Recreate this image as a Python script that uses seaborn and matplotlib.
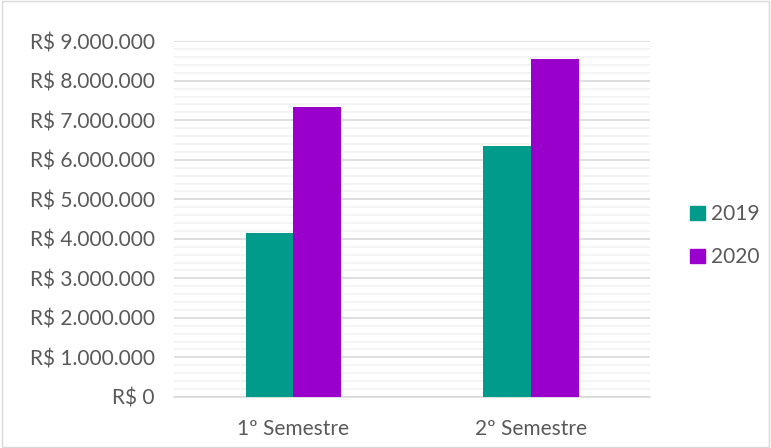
import numpy as np
import pandas as pd
import matplotlib.pyplot as plt
import seaborn as sns
from matplotlib.ticker import FuncFormatter, MultipleLocator
from matplotlib.patches import Rectangle

semestres = ["1º Semestre", "2º Semestre"]
anos = ["2019", "2020"]
valores_2019 = [4160000, 6340000]
valores_2020 = [7340000, 8540000]
cores = ["#009B8B", "#9900CC"]

df = pd.DataFrame({
    "Semestre": semestres * 2,
    "Ano": [anos[0]] * 2 + [anos[1]] * 2,
    "Valor": valores_2019 + valores_2020,
})

sns.set_style("white")
plt.rcParams['font.family'] = ['Lato', 'DejaVu Sans']

fig = plt.figure(figsize=(7.71, 4.48), dpi=100)
ax = fig.add_axes([0.226, 0.114, 0.617, 0.794])

sns.barplot(data=df, x="Semestre", y="Valor", hue="Ano", palette=cores,
            width=0.4, ax=ax, saturation=1, legend=False, zorder=3,
            linewidth=0, edgecolor="none")

ax.set_xlim(-0.5, 1.5)
ax.set_ylim(0, 9000000)
ax.yaxis.set_major_locator(MultipleLocator(1000000))
ax.yaxis.set_minor_locator(MultipleLocator(200000))
ax.yaxis.set_major_formatter(FuncFormatter(lambda v, p: "R$ " + f"{int(v):,}".replace(",", ".")))
ax.grid(axis="y", which="major", color="#D9D9D9", linewidth=1.2, zorder=0)
ax.grid(axis="y", which="minor", color="#F2F2F2", linewidth=1.2, zorder=0)
ax.set_axisbelow(True)
for s in ["top", "right", "left"]:
    ax.spines[s].set_visible(False)
ax.spines["bottom"].set_color("#D9D9D9")
ax.spines["bottom"].set_linewidth(1.2)
ax.tick_params(axis="both", which="both", length=0, labelsize=15, labelcolor="#595959")
ax.tick_params(axis="y", pad=14)
ax.tick_params(axis="x", pad=16)
ax.set_xlabel("")
ax.set_ylabel("")

handles = [Rectangle((0, 0), 1, 1, color=c) for c in cores]
fig.legend(handles, anos, loc="center left", bbox_to_anchor=(0.895, 0.474),
           frameon=False, fontsize=15, labelcolor="#595959",
           borderaxespad=0, borderpad=0,
           handlelength=0.7, handleheight=0.7, handletextpad=0.3, labelspacing=1.1)

fig.patches.append(Rectangle((0.002, 0.002), 0.996, 0.996, transform=fig.transFigure,
                             fill=False, edgecolor="#D9D9D9", linewidth=1))

fig.savefig("out.png", dpi=100, facecolor="white")
